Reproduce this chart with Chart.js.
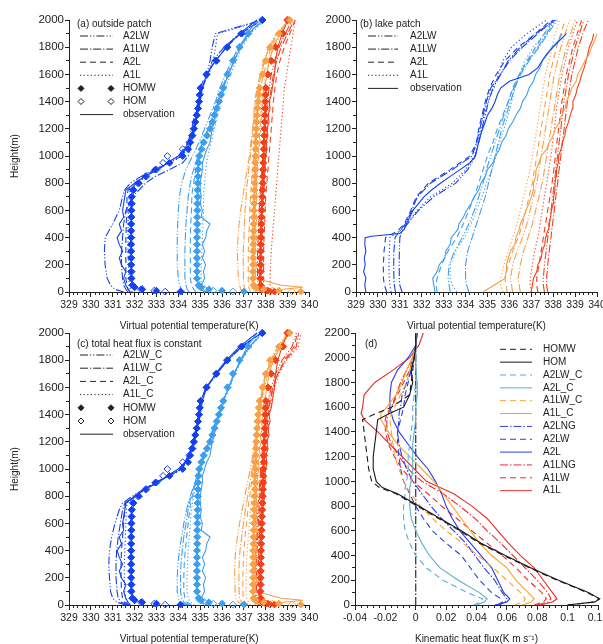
<!DOCTYPE html>
<html>
<head>
<meta charset="utf-8">
<title>Virtual potential temperature and heat flux profiles</title>
<script src="https://cdn.jsdelivr.net/npm/chart.js@4.4.1/dist/chart.umd.min.js"></script>
<style>
html,body{margin:0;padding:0;background:#ffffff;width:603px;height:644px;overflow:hidden;}
canvas{position:absolute;}
</style>
</head>
<body>
<canvas id="pa" width="330" height="335" style="left:0px;top:0px"></canvas>
<canvas id="pb" width="330" height="335" style="left:300px;top:0px"></canvas>
<canvas id="pc" width="330" height="335" style="left:0px;top:313px"></canvas>
<canvas id="pd" width="330" height="335" style="left:300px;top:313px"></canvas>
<script>
// ================= DATA =================
// Height levels (m)
const HF  = [3,10,20,35,50,100,150,200,250,300,350,400,450,500,550,600,650,700,750,800,850,900,950,1000,1050,1100,1150,1200,1250,1300,1350,1400,1450,1500,1600,1700,1800,1900,2000];
const HC  = [0,20,50,100,200,300,400,500,600,700,750,800,850,900,950,1000,1100,1200,1300,1400,1500,1600,1700,1800,1900,2000];
const HB  = [0,50,100,200,300,400,450,500,600,700,800,900,1000,1100,1200,1300,1400,1500,1600,1700,1800,1900,2000];
const HOB = [0,50,100,150,200,250,300,350,400,410,430,460,500,550,600,650,700,750,800,850,900,950,1000,1050,1100,1150,1200,1250,1300,1350,1400,1450,1500,1550,1600,1650,1700,1750,1800,1850,1900];
const HD  = [0,25,50,100,200,300,400,500,600,700,800,900,950,1000,1100,1200,1300,1400,1500,1550,1600,1700,1800,1900,2000,2100,2200];

// ---- panels (a)/(c): HOMW, HOM and observation (K) on HF ----
const blueHOMW = [334.1,333.0,332.35,332.0,331.9,331.85,331.85,331.84,331.84,331.84,331.84,331.84,331.84,331.84,331.85,331.85,331.86,331.87,331.95,332.2,332.5,332.95,333.6,334.2,334.45,334.55,334.65,334.72,334.78,334.85,334.9,334.95,334.98,335.02,335.3,335.75,336.25,336.9,337.85];
const blueHOM  = [333.4,332.9,332.3,332.0,331.9,331.86,331.86,331.85,331.85,331.85,331.85,331.85,331.85,331.85,331.86,331.86,331.87,331.88,331.92,332.15,332.55,333.0,333.3,333.5,334.2,334.5,334.62,334.7,334.77,334.84,334.9,334.95,334.98,335.02,335.28,335.72,336.22,336.88,337.83];
const blueOBS  = [331.8,331.75,331.7,331.65,331.6,331.5,331.6,331.4,331.3,331.45,331.3,331.2,331.4,331.3,331.5,331.45,331.5,331.55,331.6,332.0,332.45,333.1,333.5,334.0,334.3,334.45,334.6,334.7,334.8,334.85,334.95,335.0,335.05,335.1,335.3,335.7,336.2,336.8,337.6];
const skyHOMW  = [337.0,336.0,335.4,335.05,334.95,334.85,334.85,334.85,334.85,334.85,334.85,334.85,334.86,334.86,334.86,334.87,334.87,334.88,334.88,334.89,334.9,334.9,334.92,334.95,335.05,335.15,335.3,335.45,335.55,335.65,335.75,335.85,335.95,336.05,336.25,336.5,336.8,337.2,337.85];
const skyHOM   = [336.5,335.6,335.2,335.0,334.92,334.86,334.86,334.86,334.86,334.86,334.86,334.86,334.87,334.87,334.87,334.88,334.88,334.89,334.89,334.9,334.9,334.91,334.93,334.97,335.07,335.17,335.32,335.46,335.56,335.66,335.76,335.86,335.96,336.06,336.26,336.5,336.8,337.2,337.85];
const skyOBS   = [335.3,335.2,335.1,335.1,335.05,335.2,335.15,335.25,335.1,335.2,335.1,335.25,335.3,335.45,335.05,335.1,335.0,335.05,335.0,335.0,335.05,335.1,335.1,335.2,335.3,335.45,335.5,335.55,335.65,335.7,335.8,335.85,335.95,336.05,336.3,336.55,336.85,337.15,337.6];
const orgHOMW  = [339.6,338.6,337.9,337.55,337.45,337.42,337.42,337.42,337.42,337.42,337.43,337.43,337.44,337.44,337.45,337.45,337.46,337.47,337.48,337.49,337.5,337.5,337.51,337.52,337.53,337.54,337.55,337.56,337.58,337.6,337.62,337.65,337.68,337.72,337.85,338.0,338.2,338.6,339.1];
const orgHOM   = [339.2,338.3,337.8,337.5,337.44,337.43,337.43,337.43,337.43,337.43,337.44,337.44,337.45,337.45,337.46,337.46,337.47,337.48,337.49,337.5,337.51,337.51,337.52,337.53,337.54,337.55,337.56,337.57,337.59,337.61,337.63,337.66,337.69,337.73,337.86,338.0,338.2,338.6,339.05];
const orgOBS   = [337.5,337.6,338.8,339.7,338.7,337.55,337.5,337.6,337.45,337.55,337.5,337.6,337.5,337.55,337.6,337.5,337.55,337.6,337.55,337.6,337.55,337.65,337.6,337.7,337.65,337.75,337.7,337.8,337.75,337.85,337.8,337.9,337.85,337.95,338.05,338.15,338.35,338.65,339.0];
const redHOMW  = [338.4,338.1,337.9,337.8,337.78,337.75,337.76,337.76,337.77,337.77,337.78,337.78,337.79,337.8,337.8,337.81,337.82,337.84,337.85,337.86,337.87,337.88,337.89,337.9,337.91,337.92,337.93,337.94,337.95,337.96,337.97,337.98,337.99,338.0,338.1,338.25,338.45,338.8,339.0];
const redHOM   = [338.2,338.0,337.85,337.78,337.77,337.76,337.76,337.77,337.77,337.78,337.78,337.79,337.79,337.8,337.81,337.82,337.83,337.84,337.85,337.86,337.87,337.88,337.89,337.9,337.91,337.92,337.93,337.94,337.95,337.96,337.97,337.98,337.99,338.01,338.1,338.25,338.45,338.78,338.98];
const redOBS   = [338.3,338.1,337.9,337.8,337.75,337.7,337.8,337.75,337.7,337.8,337.75,337.85,337.8,337.75,337.85,337.8,337.9,337.85,337.9,337.95,337.9,338.0,337.95,338.0,338.05,338.0,338.1,338.05,338.15,338.1,338.2,338.15,338.25,338.3,338.4,338.45,338.55,338.75,339.0];

// ---- panel (a): sensitivity runs on HC ----
const aBlueA2LW = [331.5,331.1,330.9,330.75,330.65,330.62,330.65,331.0,331.3,331.45,331.55,331.8,332.3,332.9,333.5,334.0,334.45,334.6,334.75,334.9,335.05,335.3,335.45,335.55,335.7,337.8];
const aBlueA1LW = [331.7,331.6,331.5,331.45,331.4,331.4,331.45,331.5,331.6,331.9,332.2,332.5,332.95,333.6,334.2,334.45,334.6,334.75,334.85,334.95,335.1,335.35,335.55,336.1,336.8,337.8];
const aBlueA2L  = [331.8,331.7,331.65,331.6,331.6,331.6,331.6,331.62,331.65,331.65,331.7,332.1,332.45,332.95,333.6,334.15,334.5,334.7,334.8,334.9,335.0,335.25,335.7,336.2,336.85,337.85];
const aBlueA1L  = [331.9,331.8,331.75,331.75,331.72,331.7,331.7,331.7,331.72,331.75,331.8,332.15,332.5,333.0,333.6,334.2,334.55,334.7,334.85,334.95,335.05,335.4,335.6,335.7,335.8,337.9];
const aSkyA2LW  = [334.3,334.15,334.05,334.0,333.95,333.95,333.95,333.97,334.0,334.05,334.1,334.15,334.25,334.35,334.5,334.65,334.95,335.2,335.45,335.7,335.9,336.15,336.45,336.75,337.2,337.85];
const aSkyA1LW  = [334.5,334.4,334.35,334.3,334.3,334.3,334.32,334.35,334.4,334.45,334.5,334.55,334.6,334.7,334.8,334.9,335.1,335.35,335.6,335.8,336.0,336.25,336.5,336.8,337.2,337.85];
const aSkyA2L   = [334.8,334.7,334.6,334.55,334.55,334.55,334.55,334.57,334.6,334.62,334.65,334.7,334.75,334.8,334.85,334.95,335.15,335.4,335.62,335.85,336.05,336.3,336.55,336.85,337.25,337.9];
const aSkyA1L   = [335.2,335.1,335.05,335.05,335.05,335.07,335.1,335.12,335.15,335.15,335.17,335.2,335.22,335.25,335.3,335.35,335.5,335.65,335.8,335.95,336.15,336.4,336.65,336.9,337.3,337.95];
const aOrgA2LW  = [337.0,336.85,336.8,336.75,336.72,336.7,336.73,336.78,336.85,336.95,337.0,337.05,337.1,337.15,337.2,337.25,337.32,337.4,337.45,337.5,337.6,337.75,337.9,338.1,338.5,339.0];
const aOrgA1LW  = [337.1,337.05,337.0,336.98,336.97,336.97,337.0,337.02,337.05,337.1,337.12,337.15,337.2,337.22,337.25,337.3,337.35,337.42,337.5,337.57,337.65,337.8,337.95,338.15,338.55,339.05];
const aOrgA2L   = [337.3,337.25,337.2,337.2,337.2,337.2,337.22,337.25,337.27,337.3,337.32,337.35,337.37,337.4,337.42,337.45,337.5,337.55,337.6,337.65,337.75,337.9,338.05,338.25,338.6,339.05];
const aOrgA1L   = [337.45,337.4,337.35,337.35,337.35,337.35,337.37,337.4,337.42,337.45,337.47,337.5,337.52,337.55,337.57,337.6,337.65,337.7,337.75,337.8,337.9,338.0,338.15,338.35,338.7,339.1];
const aRedA2LW  = [337.75,337.7,337.65,337.63,337.62,337.63,337.65,337.68,337.7,337.73,337.75,337.78,337.8,337.82,337.85,337.87,337.92,337.97,338.02,338.08,338.15,338.25,338.4,338.6,338.9,339.2];
const aRedA1LW  = [337.85,337.8,337.75,337.73,337.72,337.73,337.75,337.78,337.8,337.83,337.85,337.88,337.9,337.92,337.95,337.97,338.02,338.07,338.12,338.18,338.25,338.35,338.5,338.7,339.0,339.3];
const aRedA2L   = [338.0,337.95,337.9,337.9,337.9,337.9,337.92,337.95,337.97,338.0,338.02,338.05,338.07,338.1,338.12,338.15,338.2,338.25,338.3,338.35,338.42,338.5,338.65,338.85,339.1,339.35];
const aRedA1L   = [338.3,338.2,338.2,338.2,338.22,338.25,338.3,338.35,338.4,338.45,338.47,338.5,338.52,338.55,338.57,338.6,338.65,338.7,338.75,338.8,338.85,338.95,339.05,339.15,339.25,339.35];

// ---- panel (c): constant total heat flux runs on HC ----
const cBlueA2LW = [331.6,331.2,331.0,330.9,330.85,330.82,330.85,330.95,331.1,331.3,331.45,331.9,332.4,332.95,333.55,334.15,334.5,334.68,334.82,334.93,335.02,335.28,335.75,336.25,336.9,337.8];
const cBlueA1LW = [331.7,331.4,331.25,331.2,331.15,331.15,331.18,331.25,331.35,331.45,331.55,332.0,332.45,332.95,333.55,334.15,334.5,334.7,334.83,334.93,335.02,335.28,335.75,336.25,336.9,337.8];
const cBlueA2L  = [331.75,331.55,331.45,331.4,331.38,331.38,331.4,331.45,331.5,331.55,331.6,332.05,332.45,332.95,333.6,334.15,334.52,334.7,334.83,334.93,335.02,335.28,335.75,336.25,336.9,337.8];
const cBlueA1L  = [331.8,331.65,331.6,331.55,331.53,331.53,331.55,331.58,331.6,331.62,331.65,332.1,332.5,332.97,333.6,334.18,334.53,334.72,334.85,334.95,335.03,335.3,335.77,336.27,336.92,337.82];
const cSkyA2LW  = [334.4,334.1,334.0,333.95,333.95,333.98,334.05,334.15,334.25,334.38,334.45,334.55,334.65,334.75,334.85,334.95,335.15,335.4,335.6,335.85,336.05,336.3,336.55,336.85,337.25,337.85];
const cSkyA1LW  = [334.5,334.25,334.15,334.1,334.1,334.12,334.18,334.25,334.35,334.45,334.5,334.6,334.68,334.78,334.87,334.97,335.17,335.4,335.62,335.85,336.05,336.3,336.55,336.85,337.25,337.85];
const cSkyA2L   = [334.6,334.4,334.3,334.25,334.25,334.27,334.32,334.38,334.45,334.52,334.57,334.65,334.72,334.8,334.9,335.0,335.2,335.42,335.63,335.87,336.07,336.32,336.57,336.87,337.27,337.85];
const cSkyA1L   = [334.75,334.55,334.45,334.4,334.4,334.42,334.45,334.5,334.55,334.6,334.65,334.7,334.77,334.83,334.92,335.02,335.22,335.45,335.65,335.9,336.1,336.35,336.6,336.9,337.3,337.88];
const cOrgA2LW  = [337.0,336.75,336.65,336.6,336.58,336.58,336.62,336.7,336.8,336.92,336.98,337.05,337.1,337.17,337.23,337.3,337.4,337.5,337.6,337.68,337.75,337.85,337.98,338.2,338.55,339.0];
const cOrgA1LW  = [337.1,336.9,336.8,336.78,336.77,336.78,336.82,336.9,336.98,337.07,337.12,337.17,337.22,337.27,337.32,337.37,337.45,337.55,337.63,337.7,337.78,337.88,338.02,338.25,338.6,339.05];
const cOrgA2L   = [337.2,337.05,336.98,336.95,336.95,336.97,337.0,337.05,337.12,337.18,337.22,337.27,337.3,337.35,337.38,337.42,337.5,337.58,337.66,337.73,337.8,337.92,338.05,338.28,338.65,339.1];
const cOrgA1L   = [337.3,337.2,337.12,337.1,337.1,337.12,337.15,337.2,337.25,337.3,337.33,337.37,337.4,337.43,337.46,337.5,337.56,337.63,337.7,337.77,337.85,337.95,338.1,338.32,338.7,339.1];
const cRedA2LW  = [337.7,337.6,337.55,337.52,337.5,337.52,337.55,337.58,337.6,337.63,337.65,337.68,337.7,337.72,337.75,337.77,337.82,337.88,337.95,338.02,338.1,338.25,338.45,338.75,339.2,339.4];
const cRedA1LW  = [337.75,337.65,337.6,337.58,337.57,337.58,337.6,337.63,337.66,337.69,337.71,337.73,337.75,337.77,337.8,337.82,337.87,337.93,338.0,338.08,338.17,338.32,338.55,338.9,339.4,339.5];
const cRedA2L   = [337.8,337.72,337.68,337.65,337.65,337.66,337.68,337.7,337.72,337.75,337.77,337.79,337.81,337.83,337.85,337.87,337.92,337.98,338.05,338.12,338.2,338.35,338.55,338.85,339.3,339.45];
const cRedA1L   = [337.85,337.8,337.75,337.73,337.73,337.74,337.76,337.78,337.8,337.82,337.84,337.86,337.88,337.9,337.92,337.94,337.98,338.04,338.1,338.17,338.25,338.4,338.6,338.95,339.5,339.6];

// ---- panel (b): lake patch, runs on HB, observations on HOB ----
const bBlueA2LW = [331.1,331.0,330.98,330.97,330.98,331.0,331.1,331.35,331.85,332.55,333.55,334.1,334.45,334.6,334.75,334.9,335.05,335.25,335.6,335.95,336.5,337.2,338.1];
const bBlueA1LW = [330.8,330.75,330.73,330.72,330.73,330.78,331.0,331.25,331.55,331.8,332.4,333.4,334.3,334.5,334.65,334.8,334.95,335.15,335.6,336.0,336.6,337.3,338.0];
const bBlueA2L  = [330.4,330.3,330.25,330.25,330.28,330.35,330.9,331.2,331.5,331.75,332.3,333.3,334.2,334.5,334.6,334.75,334.9,335.1,335.4,335.8,336.4,337.2,337.9];
const bBlueA1L  = [330.6,330.55,330.52,330.5,330.52,330.55,331.0,331.3,331.8,332.4,333.4,334.0,334.4,334.55,334.7,334.85,335.0,335.3,335.5,335.7,336.1,336.8,337.7];
const bBlueOBS  = [329.45,329.4,329.45,329.35,329.42,329.38,329.45,329.4,329.42,329.7,331.0,331.2,331.3,331.45,331.6,331.85,332.1,332.45,332.85,333.3,333.75,334.2,334.45,334.52,334.6,334.68,334.78,334.9,335.0,335.2,335.35,335.45,335.6,336.0,336.9,337.3,337.5,337.7,338.0,338.3,338.6];
const bSkyA2LW  = [333.3,333.25,333.2,333.25,333.5,333.85,334.0,334.15,334.4,334.6,334.8,334.95,335.15,335.35,335.55,335.75,335.95,336.2,336.5,336.85,337.3,337.7,338.1];
const bSkyA1LW  = [334.15,334.05,334.0,334.0,334.1,334.3,334.4,334.5,334.7,334.9,335.05,335.2,335.35,335.5,335.65,335.85,336.05,336.25,336.5,336.9,337.35,337.75,338.2];
const bSkyA2L   = [332.7,332.65,332.7,332.9,333.2,333.6,333.75,333.9,334.15,334.4,334.6,334.8,335.0,335.25,335.45,335.7,335.95,336.15,336.45,336.8,337.2,337.6,338.0];
const bSkyA1L   = [333.6,333.4,333.3,333.3,333.55,333.95,334.1,334.25,334.5,334.75,334.95,335.2,335.4,335.55,335.75,335.95,336.1,336.25,336.45,336.7,337.1,337.6,338.05];
const bSkyOBS   = [332.6,332.55,332.5,332.7,332.8,333.05,333.1,333.3,333.35,333.4,333.5,333.65,333.7,333.9,334.05,334.25,334.4,334.6,334.7,334.9,335.0,335.25,335.35,335.55,335.65,335.85,335.95,336.15,336.3,336.5,336.6,336.8,336.9,337.1,337.2,337.4,337.5,337.75,337.95,338.25,338.4];
const bOrgA2LW  = [336.15,336.1,336.05,336.15,336.35,336.6,336.7,336.8,336.95,337.1,337.25,337.35,337.45,337.55,337.65,337.75,337.85,337.95,338.05,338.2,338.35,338.55,338.75];
const bOrgA1LW  = [336.5,336.45,336.4,336.5,336.65,336.85,336.95,337.05,337.2,337.35,337.5,337.6,337.7,337.8,337.9,338.0,338.1,338.2,338.3,338.45,338.6,338.8,339.0];
const bOrgA2L   = [335.9,335.85,335.8,335.95,336.15,336.4,336.5,336.6,336.75,336.9,337.05,337.15,337.25,337.35,337.45,337.55,337.65,337.75,337.85,338.0,338.15,338.35,338.55];
const bOrgA1L   = [335.7,335.6,335.6,335.75,335.95,336.15,336.25,336.35,336.5,336.65,336.8,336.95,337.05,337.15,337.25,337.35,337.45,337.55,337.65,337.8,337.95,338.1,338.3];
const bOrgOBS   = [334.8,335.3,335.8,335.85,335.87,335.95,336.05,336.25,336.3,336.33,336.37,336.45,336.5,336.65,336.75,336.9,337.0,337.1,337.1,337.2,337.22,337.35,337.45,337.7,337.82,338.0,338.1,338.3,338.38,338.55,338.6,338.75,338.85,339.05,339.12,339.3,339.45,339.65,339.75,339.9,340.0];
const bRedA2LW  = [337.6,337.55,337.55,337.6,337.68,337.75,337.8,337.83,337.9,337.98,338.05,338.12,338.2,338.27,338.35,338.42,338.5,338.6,338.7,338.85,339.0,339.2,339.4];
const bRedA1LW  = [337.75,337.7,337.7,337.75,337.82,337.9,337.93,337.97,338.05,338.12,338.2,338.27,338.35,338.42,338.5,338.57,338.65,338.75,338.85,339.0,339.15,339.35,339.6];
const bRedA2L   = [337.3,337.25,337.25,337.35,337.45,337.55,337.6,337.65,337.75,337.85,337.95,338.03,338.1,338.17,338.25,338.32,338.4,338.5,338.6,338.75,338.9,339.1,339.3];
const bRedA1L   = [337.0,336.95,336.95,337.05,337.15,337.3,337.35,337.4,337.5,337.6,337.7,337.8,337.9,337.97,338.05,338.12,338.2,338.3,338.4,338.55,338.7,338.9,339.1];
const bRedOBS   = [337.0,337.05,337.1,337.25,337.3,337.45,337.5,337.62,337.65,337.68,337.7,337.78,337.8,337.88,337.92,338.0,338.02,338.08,338.08,338.13,338.15,338.23,338.25,338.36,338.42,338.53,338.58,338.7,338.78,338.88,338.9,339.03,339.1,339.22,339.3,339.42,339.5,339.58,339.65,339.78,339.85];

// ---- panel (d): kinematic heat flux (K m s-1) on HD ----
const fluxHOMW   = [0.10,0.118,0.121,0.113,0.093,0.075,0.058,0.042,0.029,0.015,0.001,-0.013,-0.024,-0.029,-0.031,-0.032,-0.033,-0.034,-0.035,-0.026,-0.016,-0.004,-0.003,-0.002,-0.001,0.0,0.0];
const fluxHOM    = [0.10,0.118,0.121,0.114,0.094,0.076,0.059,0.043,0.030,0.016,0.002,-0.012,-0.022,-0.026,-0.028,-0.028,-0.027,-0.026,-0.025,-0.017,-0.008,-0.004,-0.002,-0.003,-0.001,0.0,0.0];
const fluxA2LW_C = [0.038,0.043,0.044,0.034,0.018,0.007,0.0,-0.004,-0.007,-0.008,-0.008,-0.007,-0.007,-0.006,-0.005,-0.005,-0.004,-0.003,-0.002,-0.002,-0.002,-0.001,0.0,0.0,0.0,0.0,0.0];
const fluxA2L_C  = [0.04,0.045,0.047,0.042,0.028,0.016,0.009,0.004,0.0,-0.003,-0.004,-0.004,-0.004,-0.003,-0.002,-0.002,-0.002,-0.001,0.0,0.0,0.0,0.001,0.001,0.0,0.0,0.0,0.0];
const fluxA1LW_C = [0.065,0.071,0.072,0.069,0.06,0.051,0.041,0.031,0.02,0.011,0.003,-0.003,-0.006,-0.008,-0.011,-0.014,-0.015,-0.016,-0.017,-0.016,-0.014,-0.01,-0.006,-0.004,-0.001,0.0,0.0];
const fluxA1L_C  = [0.07,0.076,0.078,0.074,0.066,0.06,0.05,0.042,0.036,0.03,0.024,0.018,0.015,0.012,0.004,-0.004,-0.012,-0.018,-0.023,-0.023,-0.019,-0.013,-0.009,-0.006,-0.002,0.0,0.0];
const fluxA2LNG  = [0.055,0.059,0.06,0.057,0.052,0.045,0.039,0.033,0.025,0.017,0.01,0.004,0.001,-0.002,-0.006,-0.009,-0.011,-0.012,-0.011,-0.011,-0.01,-0.009,-0.006,-0.003,-0.001,0.0,0.0];
const fluxA2LW   = [0.054,0.057,0.056,0.05,0.042,0.036,0.03,0.02,0.011,0.005,0.0,-0.004,-0.006,-0.008,-0.01,-0.011,-0.012,-0.012,-0.01,-0.009,-0.008,-0.007,-0.005,-0.003,-0.001,0.0,0.0];
const fluxA2L    = [0.052,0.06,0.062,0.058,0.054,0.05,0.043,0.036,0.029,0.024,0.02,0.017,0.015,0.013,0.008,0.001,-0.005,-0.011,-0.015,-0.016,-0.017,-0.017,-0.016,-0.012,-0.005,0.0,0.001];
const fluxA1LNG  = [0.08,0.087,0.089,0.087,0.08,0.072,0.064,0.056,0.047,0.039,0.029,0.018,0.011,0.004,-0.005,-0.011,-0.016,-0.019,-0.019,-0.018,-0.016,-0.013,-0.01,-0.006,-0.002,0.0,0.0];
const fluxA1LW   = [0.078,0.084,0.086,0.083,0.074,0.066,0.057,0.047,0.037,0.027,0.017,0.008,0.003,-0.002,-0.009,-0.014,-0.018,-0.02,-0.02,-0.019,-0.016,-0.012,-0.008,-0.004,-0.002,0.0,0.001];
const fluxA1L    = [0.082,0.09,0.093,0.09,0.084,0.078,0.069,0.061,0.054,0.047,0.037,0.025,0.016,0.007,-0.001,-0.009,-0.017,-0.025,-0.034,-0.036,-0.035,-0.034,-0.027,-0.015,-0.004,0.002,0.005];
const zeroFlux   = [0, 0];
const zeroHeight = [0, 2170];

// ================= STYLE =================
const FONT = '"Liberation Sans", Arial, Helvetica, sans-serif';
Chart.defaults.font.family = FONT;
Chart.defaults.font.size = 10;
Chart.defaults.color = '#222';
const INK = '#222222';
const C = {blue:'#1440ee', sky:'#3d9ef0', org:'#f7a048', red:'#f2401c'};
const D = {black:'#1a1a1a', sky:'#5aaed2', org:'#f5a62a', blue:'#2a3ce6', red:'#ec2a2a'};
const DASH = {A2LW:[8,2,1.2,2,1.2,2], A1LW:[8,2,1.2,2], A2L:[6,4], A1L:[1.2,2.4], solid:[], dashd:[6,4], dashdot:[8,2,1.5,2]};

function pts(xs, hs) { return xs.map((v, i) => ({x: v, y: hs[i]})); }
function line(label, xs, hs, color, dash, order) {
  return {label, data: pts(xs, hs), borderColor: color, backgroundColor: color, borderWidth: 1.1,
          borderDash: dash, pointRadius: 0, pointHoverRadius: 0, fill: false, tension: 0,
          order: order === undefined ? 3 : order, clip: 5, xAxisID: 'x', yAxisID: 'y'};
}
function marks(label, xs, hs, color, filled) {
  return {label, data: pts(xs, hs), showLine: false, pointStyle: 'rectRot', pointRadius: 3.4,
          pointHoverRadius: 3.4, pointBorderWidth: 1, pointBorderColor: color,
          pointBackgroundColor: filled ? color : 'rgba(255,255,255,0)', borderColor: color,
          backgroundColor: color, order: filled ? 0 : 1, clip: 5, xAxisID: 'x', yAxisID: 'y'};
}

function legendBox(cfg) {
  return {
    id: 'legendBox',
    afterDraw(chart) {
      const ctx = chart.ctx;
      ctx.save();
      ctx.font = '10px ' + FONT;
      ctx.textBaseline = 'middle';
      ctx.textAlign = 'left';
      ctx.fillStyle = INK;
      if (cfg.title) ctx.fillText(cfg.title, cfg.titleX, cfg.titleY);
      cfg.entries.forEach((e, i) => {
        const y = cfg.y0 + i * cfg.rowH;
        const col = e.color || INK;
        ctx.strokeStyle = col;
        ctx.lineWidth = 1;
        if (e.marker) {
          ctx.setLineDash([]);
          [cfg.x1 + 1, cfg.x2 - 2].forEach(mx => {
            ctx.fillStyle = e.marker === 'filled' ? col : 'rgba(255,255,255,0)';
            Chart.helpers.drawPoint(ctx, {pointStyle: 'rectRot', radius: 3, borderWidth: 1, rotation: 0}, mx, y);
          });
        } else {
          ctx.setLineDash(e.dash || []);
          ctx.beginPath(); ctx.moveTo(cfg.x1, y); ctx.lineTo(cfg.x2, y); ctx.stroke();
          ctx.setLineDash([]);
        }
        ctx.fillStyle = INK;
        ctx.fillText(e.label, cfg.textX, y);
      });
      ctx.restore();
    }
  };
}

function axes(o) {
  return {
    x: {type: 'linear', min: o.xmin, max: o.xmax, position: 'bottom',
        ticks: {stepSize: o.xstep, autoSkip: false, maxRotation: 0, padding: 2, color: INK, font: {size: 10.5},
                callback: v => String(Number(v.toFixed(3)))},
        grid: {drawOnChartArea: false, tickLength: 5, color: INK, tickWidth: 1},
        border: {color: INK, width: 1},
        title: {display: true, text: o.xtitle, color: INK, font: {size: 10}, padding: {top: 0, bottom: 3}},
        afterFit: s => { s.height = 43; }},
    y: {type: 'linear', min: 0, max: o.ymax, position: 'left',
        ticks: {stepSize: 200, autoSkip: false, padding: 1, color: INK, font: {size: 11.5}, callback: v => String(v)},
        grid: {drawOnChartArea: false, tickLength: 4, color: INK, tickWidth: 1},
        border: {color: INK, width: 1},
        title: {display: !!o.ytitle, text: o.ytitle || '', color: INK, font: {size: 10}, padding: {top: 9, bottom: 0}},
        afterFit: s => { s.width = o.yw; }},
    xm: {type: 'linear', axis: 'x', min: o.xmin, max: o.xmax, position: {y: 0},
         ticks: {display: false, stepSize: o.xminor, autoSkip: false},
         grid: {drawOnChartArea: false, tickLength: 3, color: INK, tickWidth: 1},
         border: {display: false}},
    ym: {type: 'linear', axis: 'y', min: 0, max: o.ymax, position: {x: o.xmin},
         ticks: {display: false, stepSize: 100, autoSkip: false},
         grid: {drawOnChartArea: false, tickLength: 3, color: INK, tickWidth: 1},
         border: {display: false}}
  };
}

function makeChart(id, datasets, ax, padRight, legend) {
  return new Chart(document.getElementById(id), {
    type: 'line',
    data: {datasets},
    options: {
      responsive: false, animation: false, events: [],
      layout: {padding: {top: 20, right: padRight, bottom: 0, left: 0}},
      plugins: {legend: {display: false}, tooltip: {enabled: false}},
      scales: ax
    },
    plugins: [legendBox(legend)]
  });
}

const TEMP_TITLE = 'Virtual potential temperature(K)';

// ---------- panels (a) and (c) ----------
const groupsA = [
  {c: C.blue, r: [aBlueA2LW, aBlueA1LW, aBlueA2L, aBlueA1L], w: blueHOMW, h: blueHOM, o: blueOBS},
  {c: C.sky,  r: [aSkyA2LW,  aSkyA1LW,  aSkyA2L,  aSkyA1L],  w: skyHOMW,  h: skyHOM,  o: skyOBS},
  {c: C.org,  r: [aOrgA2LW,  aOrgA1LW,  aOrgA2L,  aOrgA1L],  w: orgHOMW,  h: orgHOM,  o: orgOBS},
  {c: C.red,  r: [aRedA2LW,  aRedA1LW,  aRedA2L,  aRedA1L],  w: redHOMW,  h: redHOM,  o: redOBS}
];
const groupsC = [
  {c: C.blue, r: [cBlueA2LW, cBlueA1LW, cBlueA2L, cBlueA1L], w: blueHOMW, h: blueHOM, o: blueOBS},
  {c: C.sky,  r: [cSkyA2LW,  cSkyA1LW,  cSkyA2L,  cSkyA1L],  w: skyHOMW,  h: skyHOM,  o: skyOBS},
  {c: C.org,  r: [cOrgA2LW,  cOrgA1LW,  cOrgA2L,  cOrgA1L],  w: orgHOMW,  h: orgHOM,  o: orgOBS},
  {c: C.red,  r: [cRedA2LW,  cRedA1LW,  cRedA2L,  cRedA1L],  w: redHOMW,  h: redHOM,  o: redOBS}
];
function outsideSets(groups, suffix) {
  const out = [];
  groups.forEach(g => {
    out.push(line('A2LW' + suffix, g.r[0], HC, g.c, DASH.A2LW));
    out.push(line('A1LW' + suffix, g.r[1], HC, g.c, DASH.A1LW));
    out.push(line('A2L' + suffix,  g.r[2], HC, g.c, DASH.A2L));
    out.push(line('A1L' + suffix,  g.r[3], HC, g.c, DASH.A1L));
    out.push(line('observation',   g.o,    HF, g.c, DASH.solid, 2));
    out.push(marks('HOM',  g.h, HF, g.c, false));
    out.push(marks('HOMW', g.w, HF, g.c, true));
  });
  return out;
}
const tempAxesLeft = () => axes({xmin: 329, xmax: 340, xstep: 1, xminor: 0.2, ymax: 2000, yw: 69, xtitle: TEMP_TITLE, ytitle: 'Height(m)'});

makeChart('pa', outsideSets(groupsA, ''), tempAxesLeft(), 20.5, {
  title: '(a) outside patch', titleX: 77, titleY: 24, x1: 80, x2: 113, textX: 123, y0: 36, rowH: 13.1,
  entries: [
    {label: 'A2LW', dash: DASH.A2LW}, {label: 'A1LW', dash: DASH.A1LW},
    {label: 'A2L', dash: DASH.A2L}, {label: 'A1L', dash: DASH.A1L},
    {label: 'HOMW', marker: 'filled'}, {label: 'HOM', marker: 'open'},
    {label: 'observation', dash: DASH.solid}
  ]
});

// ---------- panel (b) ----------
const groupsB = [
  {c: C.blue, r: [bBlueA2LW, bBlueA1LW, bBlueA2L, bBlueA1L], o: bBlueOBS},
  {c: C.sky,  r: [bSkyA2LW,  bSkyA1LW,  bSkyA2L,  bSkyA1L],  o: bSkyOBS},
  {c: C.org,  r: [bOrgA2LW,  bOrgA1LW,  bOrgA2L,  bOrgA1L],  o: bOrgOBS},
  {c: C.red,  r: [bRedA2LW,  bRedA1LW,  bRedA2L,  bRedA1L],  o: bRedOBS}
];
const setsB = [];
groupsB.forEach(g => {
  setsB.push(line('A2LW', g.r[0], HB, g.c, DASH.A2LW));
  setsB.push(line('A1LW', g.r[1], HB, g.c, DASH.A1LW));
  setsB.push(line('A2L',  g.r[2], HB, g.c, DASH.A2L));
  setsB.push(line('A1L',  g.r[3], HB, g.c, DASH.A1L));
  setsB.push(line('observation', g.o, HOB, g.c, DASH.solid, 2));
});
makeChart('pb', setsB, axes({xmin: 329, xmax: 340, xstep: 1, xminor: 0.2, ymax: 2000, yw: 56, xtitle: TEMP_TITLE}), 33, {
  title: '(b) lake patch', titleX: 60, titleY: 24, x1: 68, x2: 98, textX: 110, y0: 36, rowH: 13.1,
  entries: [
    {label: 'A2LW', dash: DASH.A2LW}, {label: 'A1LW', dash: DASH.A1LW},
    {label: 'A2L', dash: DASH.A2L}, {label: 'A1L', dash: DASH.A1L},
    {label: 'observation', dash: DASH.solid}
  ]
});

makeChart('pc', outsideSets(groupsC, '_C'), tempAxesLeft(), 20.5, {
  title: '(c) total heat flux is constant', titleX: 77, titleY: 31, x1: 80, x2: 113, textX: 123, y0: 42, rowH: 13.2,
  entries: [
    {label: 'A2LW_C', dash: DASH.A2LW}, {label: 'A1LW_C', dash: DASH.A1LW},
    {label: 'A2L_C', dash: DASH.A2L}, {label: 'A1L_C', dash: DASH.A1L},
    {label: 'HOMW', marker: 'filled'}, {label: 'HOM', marker: 'open'},
    {label: 'observation', dash: DASH.solid}
  ]
});

// ---------- panel (d) ----------
const fluxSeries = [
  {label: 'HOMW',   v: fluxHOMW,   c: D.black, d: DASH.dashd},
  {label: 'HOM',    v: fluxHOM,    c: D.black, d: DASH.solid},
  {label: 'A2LW_C', v: fluxA2LW_C, c: D.sky,   d: DASH.dashd},
  {label: 'A2L_C',  v: fluxA2L_C,  c: D.sky,   d: DASH.solid},
  {label: 'A1LW_C', v: fluxA1LW_C, c: D.org,   d: DASH.dashd},
  {label: 'A1L_C',  v: fluxA1L_C,  c: D.org,   d: DASH.solid},
  {label: 'A2LNG',  v: fluxA2LNG,  c: D.blue,  d: DASH.dashdot},
  {label: 'A2LW',   v: fluxA2LW,   c: D.blue,  d: DASH.dashd},
  {label: 'A2L',    v: fluxA2L,    c: D.blue,  d: DASH.solid},
  {label: 'A1LNG',  v: fluxA1LNG,  c: D.red,   d: DASH.dashdot},
  {label: 'A1LW',   v: fluxA1LW,   c: D.red,   d: DASH.dashd},
  {label: 'A1L',    v: fluxA1L,    c: D.red,   d: DASH.solid}
];
const setsD = fluxSeries.map(s => line(s.label, s.v, HD, s.c, s.d, 2));
setsD.push(line('zero', zeroFlux, zeroHeight, D.black, DASH.dashdot, 4));
makeChart('pd', setsD, axes({xmin: -0.04, xmax: 0.12, xstep: 0.02, xminor: 0.004, ymax: 2200, yw: 55, xtitle: 'Kinematic heat flux(K m s\u207B\u00B9)'}), 32, {
  title: '(d)', titleX: 65, titleY: 31, x1: 200, x2: 232, textX: 243, y0: 36.3, rowH: 12.85,
  entries: fluxSeries.map(s => ({label: s.label, dash: s.d, color: s.c}))
});
</script>
</body>
</html>
